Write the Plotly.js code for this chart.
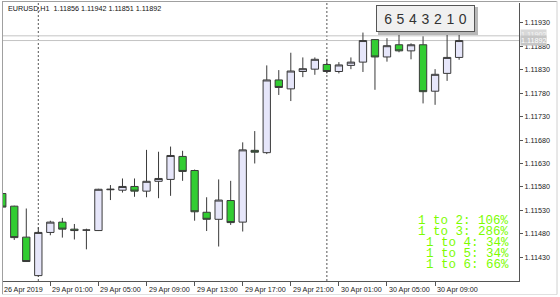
<!DOCTYPE html>
<html>
<head>
<meta charset="utf-8">
<script src="https://cdn.plot.ly/plotly-3.0.1.min.js"></script>
<style>html,body{margin:0;padding:0;background:#fff;}#chart{width:560px;height:297px;}</style>
</head>
<body>
<div id="chart"></div>
<script>
// Hourly bars EURUSD H1 (26 Apr 2019 21:00 .. 30 Apr 2019 11:00)
const times = [
  "26 Apr 21:00","26 Apr 22:00","26 Apr 23:00",
  "29 Apr 00:00","29 Apr 01:00","29 Apr 02:00","29 Apr 03:00","29 Apr 04:00","29 Apr 05:00",
  "29 Apr 06:00","29 Apr 07:00","29 Apr 08:00","29 Apr 09:00","29 Apr 10:00","29 Apr 11:00",
  "29 Apr 12:00","29 Apr 13:00","29 Apr 14:00","29 Apr 15:00","29 Apr 16:00","29 Apr 17:00",
  "29 Apr 18:00","29 Apr 19:00","29 Apr 20:00","29 Apr 21:00","29 Apr 22:00","29 Apr 23:00",
  "30 Apr 00:00","30 Apr 01:00","30 Apr 02:00","30 Apr 03:00","30 Apr 04:00","30 Apr 05:00",
  "30 Apr 06:00","30 Apr 07:00","30 Apr 08:00","30 Apr 09:00","30 Apr 10:00","30 Apr 11:00"
];
const opens  = [1.11566,1.11539,1.11473,1.11391,1.11483,1.11505,1.11490,1.11488,1.11487,1.11574,
                1.11573,1.11581,1.11571,1.11592,1.11596,1.11645,1.11615,1.11526,1.11511,1.11551,
                1.11505,1.11658,1.11653,1.11808,1.11789,1.11826,1.11831,1.11841,1.11826,1.11839,
                1.11846,1.11894,1.11857,1.11883,1.11870,1.11883,1.11784,1.11822,1.11856];
const highs  = [1.11572,1.11540,1.11534,1.11494,1.11508,1.11514,1.11501,1.11491,1.11576,1.11584,
                1.11598,1.11598,1.11659,1.11655,1.11666,1.11657,1.11617,1.11558,1.11596,1.11593,
                1.11675,1.11699,1.11839,1.11829,1.11866,1.11856,1.11856,1.11853,1.11846,1.11856,
                1.11909,1.11895,1.11897,1.11914,1.11886,1.11901,1.11831,1.11919,1.11942];
const lows   = [1.11530,1.11467,1.11420,1.11389,1.11477,1.11472,1.11468,1.11447,1.11486,1.11552,
                1.11568,1.11559,1.11558,1.11556,1.11561,1.11593,1.11508,1.11486,1.11453,1.11499,
                1.11485,1.11630,1.11650,1.11776,1.11763,1.11814,1.11819,1.11822,1.11822,1.11831,
                1.11825,1.11787,1.11847,1.11867,1.11852,1.11758,1.11755,1.11806,1.11851];
const closes = [1.11537,1.11472,1.11421,1.11483,1.11505,1.11490,1.11487,1.11488,1.11575,1.11575,
                1.11581,1.11571,1.11592,1.11598,1.11647,1.11613,1.11527,1.11511,1.11552,1.11504,
                1.11659,1.11654,1.11808,1.11792,1.11827,1.11832,1.11852,1.11826,1.11840,1.11846,
                1.11892,1.11857,1.11881,1.11870,1.11883,1.11783,1.11820,1.11856,1.11892];

const xTickText = ["26 Apr 2019","29 Apr 01:00","29 Apr 05:00","29 Apr 09:00","29 Apr 13:00",
                   "29 Apr 17:00","29 Apr 21:00","30 Apr 01:00","30 Apr 05:00","30 Apr 09:00"];
const yTickVals = [1.11430,1.11480,1.11530,1.11580,1.11630,1.11680,1.11730,1.11780,1.11830,1.11880,1.11930];

const symbolHeader = "EURUSD,H1";
const bidPrice = 1.11892;
const askPrice = 1.11902;
const swingLabels = ["6","5","4","3","2","1","0"];
const ratioLabels = ["1 to 2: 106%","1 to 3: 286%","1 to 4: 34%","1 to 5: 34%","1 to 6: 66%"];

// ---- build ----
const idx = times.map((t,i)=>i);
const xTickVals = xTickText.map((t,k)=>k*4);
const daySeps = idx.filter(i => times[i].endsWith("00:00"));
const last = times.length-1;
const headerText = symbolHeader + "\u00a0\u00a0" + [opens[last],highs[last],lows[last],closes[last]].map(v=>v.toFixed(5)).join(" ");

const W=560,H=297, L=2, R=41, T=3, B=16;
const pw = W-L-R, ph = H-T-B;
const px2paperX = p => (p-L)/pw;
const px2paperY = p => (H-B-p)/ph;
const axisFont = {family:'Liberation Sans, Arial, sans-serif', size:7.2, color:'#222'};

const trace = {
  type:'candlestick', x: idx, open: opens, high: highs, low: lows, close: closes,
  increasing:{fillcolor:'#E6E6FA', line:{color:'#3a3a3a', width:1}},
  decreasing:{fillcolor:'#32CD32', line:{color:'#3a3a3a', width:1}},
  whiskerwidth:0, hoverinfo:'skip', showlegend:false
};

const shapes = [];
daySeps.forEach(i => shapes.push({type:'line', xref:'x', yref:'paper', x0:i, x1:i, y0:0, y1:1,
  line:{color:'#555', width:1, dash:'2px,2px'}, layer:'below'}));
[askPrice,bidPrice].forEach(p => shapes.push({type:'line', xref:'paper', yref:'y', x0:0, x1:1, y0:p, y1:p,
  line:{color:'#c4c4c4', width:1}, layer:'below'}));
// window frame
shapes.push({type:'line', xref:'paper', yref:'paper', x0:px2paperX(2.5), x1:px2paperX(2.5), y0:px2paperY(1), y1:px2paperY(294.5), line:{color:'#a0a0a0', width:1}});
shapes.push({type:'line', xref:'paper', yref:'paper', x0:px2paperX(2), x1:px2paperX(557), y0:px2paperY(1.5), y1:px2paperY(1.5), line:{color:'#a0a0a0', width:1}});
shapes.push({type:'line', xref:'paper', yref:'paper', x0:px2paperX(2), x1:px2paperX(557), y0:px2paperY(294.5), y1:px2paperY(294.5), line:{color:'#e0e0e0', width:1}});
shapes.push({type:'line', xref:'paper', yref:'paper', x0:px2paperX(557), x1:px2paperX(557), y0:px2paperY(1), y1:px2paperY(294.5), line:{color:'#d0d0d0', width:1}});
// shadow of swing box
shapes.push({type:'rect', xref:'paper', yref:'paper', x0:px2paperX(378), x1:px2paperX(478), y0:px2paperY(35), y1:px2paperY(7),
  fillcolor:'#b8b8b8', line:{width:0}, layer:'above'});

const annotations = [
  {xref:'paper', yref:'paper', x:px2paperX(6), y:px2paperY(8), xanchor:'left', yanchor:'middle', showarrow:false,
   text:headerText, font:{family:'Liberation Sans, Arial, sans-serif', size:7.2, color:'#111'}},
  {xref:'paper', yref:'y', x:1, y:askPrice, xanchor:'left', yanchor:'middle', showarrow:false, xshift:1, yshift:1,
   text:askPrice.toFixed(5), bgcolor:'#d8d8d8', borderpad:0, font:{family:'Liberation Sans, Arial, sans-serif', size:7.2, color:'#f4f4f4'}},
  {xref:'paper', yref:'y', x:1, y:bidPrice, xanchor:'left', yanchor:'middle', showarrow:false, xshift:1,
   text:bidPrice.toFixed(5), bgcolor:'#c6c6c6', borderpad:0, font:{family:'Liberation Sans, Arial, sans-serif', size:7.2, color:'#ffffff'}},
  {xref:'paper', yref:'paper', x:px2paperX(425.5), y:px2paperY(18.5), xanchor:'center', yanchor:'middle', showarrow:false,
   text:swingLabels.join("\u2004"), width:93, height:21, borderpad:2, borderwidth:1, bordercolor:'#555', bgcolor:'#f0f0f0',
   font:{family:'Liberation Sans, Arial, sans-serif', size:14, color:'#333'}}
];
// x tick labels, left-aligned at their ticks (MetaTrader style)
xTickVals.forEach((v,k) => annotations.push({xref:'x', yref:'paper', x:v, y:0, xanchor:'left', yanchor:'top',
  yshift:-1.5, showarrow:false, borderpad:1, text:xTickText[k], font:axisFont}));
const ratioY = [220.7, 231.7, 242.7, 254, 265];
ratioLabels.forEach((t,k) => annotations.push({xref:'paper', yref:'paper', x:px2paperX(511), y:px2paperY(ratioY[k]),
  xanchor:'right', yanchor:'middle', showarrow:false, text:t.replace(/ /g,'\u00a0'),
  font:{family:'Liberation Mono, Courier New, monospace', size:12.5, color:'#7CFC00'}}));

const layout = {
  width:W, height:H, autosize:false,
  margin:{l:L, r:R, t:T, b:B, pad:0},
  paper_bgcolor:'#ffffff', plot_bgcolor:'#ffffff',
  showlegend:false, boxgap:0.39, boxgroupgap:0,
  xaxis:{range:[-0.02, 42.98], showgrid:false, zeroline:false, showline:true, linecolor:'#555', linewidth:1,
    ticks:'outside', ticklen:4, tickcolor:'#555', tickvals:xTickVals, showticklabels:false,
    rangeslider:{visible:false}, fixedrange:true},
  yaxis:{side:'right', range:[1.113795, 1.119720], showgrid:false, zeroline:false, showline:true, linecolor:'#555', linewidth:1,
    ticks:'outside', ticklen:3, tickcolor:'#555', tickvals:yTickVals, tickformat:'.5f',
    tickfont:axisFont, fixedrange:true},
  shapes:shapes, annotations:annotations
};
Plotly.newPlot('chart', [trace], layout, {displayModeBar:false, staticPlot:true});
</script>
</body>
</html>
